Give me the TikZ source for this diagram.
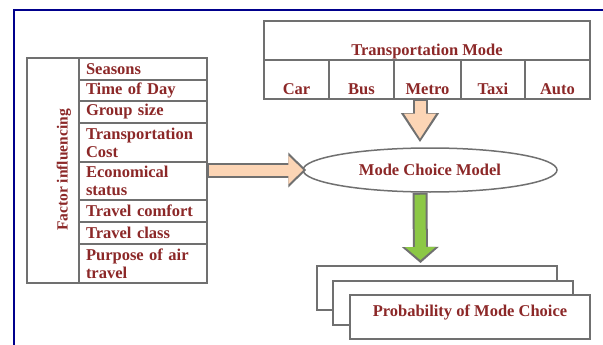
\documentclass[tikz,border=0pt]{standalone}
\usepackage{fontspec}
\setmainfont{Liberation Serif}
\usetikzlibrary{positioning,shapes.geometric,arrows.meta}
\definecolor{framenavy}{RGB}{0,0,140}
\definecolor{boxgray}{RGB}{112,112,112}
\definecolor{labelred}{RGB}{140,40,40}
\definecolor{peach}{RGB}{252,213,181}
\definecolor{leafgreen}{RGB}{140,200,70}
\tikzset{
  labelfont/.style={text=labelred, font=\bfseries\fontsize{16.5}{18}\selectfont},
  cell/.style={draw=boxgray, line width=1.5pt, fill=white, outer sep=0pt, inner sep=2pt, labelfont},
  factor/.style={cell, anchor=north west, minimum width=128pt, text width=114pt, align=left, inner xsep=7pt},
  modecell/.style={cell, anchor=north west, minimum height=39pt, text height=30pt, text depth=0pt},
  stackbox/.style={cell, anchor=north west, minimum width=240pt, minimum height=44pt},
  fatarrow outer/.style={line width=15pt, boxgray, -{Triangle[width=36pt,length=29pt]}},
  fatarrow inner/.style={line width=11pt, #1, -{Triangle[width=30pt,length=25pt]}}
}

\begin{document}
\begin{tikzpicture}[x=1pt,y=-1pt]
  \useasboundingbox (0,0) rectangle (603,345);

  % page frame
  \draw[framenavy, line width=2.5pt] (14,345) -- (14,10) -- (603,10);

  % factors table
  \node[cell, anchor=north west, minimum width=52pt, minimum height=225pt] (factorcol) at (27,58) {};
  \node[labelfont, font=\bfseries\fontsize{15.5}{18}\selectfont, rotate=90] (factortitle) at (64,170) {Factor influencing};
  \node[factor, minimum height=22pt] (seasons) at (79,58) {Seasons};
  \node[factor, minimum height=21pt, below=0pt of seasons] (timeofday) {Time of Day};
  \node[factor, minimum height=22pt, below=0pt of timeofday] (groupsize) {Group size};
  \node[factor, minimum height=39pt, below=0pt of groupsize] (cost) {Transportation\\ Cost};
  \node[factor, minimum height=38pt, below=0pt of cost] (economical) {Economical\\ status};
  \node[factor, minimum height=22pt, below=0pt of economical] (comfort) {Travel comfort};
  \node[factor, minimum height=22pt, below=0pt of comfort] (travelclass) {Travel class};
  \node[factor, minimum height=39pt, below=0pt of travelclass] (purpose) {Purpose of air\\ travel};

  % transportation mode table
  \node[modecell, minimum width=326pt] (modetitle) at (264,21) {Transportation Mode};
  \node[modecell, minimum width=65pt] (car) at (modetitle.south west) {Car};
  \node[modecell, minimum width=65pt, anchor=west, right=0pt of car] (bus) {Bus};
  \node[modecell, minimum width=67pt, anchor=west, right=0pt of bus] (metro) {Metro};
  \node[modecell, minimum width=64pt, anchor=west, right=0pt of metro] (taxi) {Taxi};
  \node[modecell, minimum width=65pt, anchor=west, right=0pt of taxi] (auto) {Auto};

  % model
  \node[draw=boxgray, line width=1.5pt, ellipse, minimum width=254pt, minimum height=44pt, inner sep=0pt, labelfont] (model) at (430,170) {Mode Choice Model};

  % output boxes
  \node[stackbox] (backbox) at (317,266) {};
  \node[stackbox] (midbox) at ([xshift=16pt,yshift=-15pt]backbox.north west) {};
  \node[stackbox, text height=11pt, text depth=12pt] (probbox) at ([xshift=17pt,yshift=-14pt]midbox.north west) {Probability of Mode Choice};

  % arrows
  \draw[fatarrow outer, shorten >=5pt] ([xshift=-7.5pt]metro.south) -- ([xshift=-10pt]model.north);
  \draw[fatarrow inner=peach, shorten >=8.5pt] ([xshift=-7.5pt,yshift=-2pt]metro.south) -- ([xshift=-10pt]model.north);
  \draw[fatarrow outer, -{Triangle[width=34pt,length=18pt]}, shorten >=-4pt] (economical.east |- model.west) -- (model.west);
  \draw[fatarrow inner=peach, -{Triangle[width=28pt,length=15pt]}, shorten >=-1pt] ([xshift=2pt]economical.east |- model.west) -- (model.west);
  \draw[fatarrow outer, -{Triangle[width=36pt,length=16pt]}, shorten >=3pt] ([xshift=-10pt]model.south) -- ([xshift=-16.5pt]backbox.north);
  \draw[fatarrow inner=leafgreen, -{Triangle[width=30pt,length=13pt]}, shorten >=6pt] ([xshift=-10pt,yshift=-2pt]model.south) -- ([xshift=-16.5pt]backbox.north);
\end{tikzpicture}
\end{document}
